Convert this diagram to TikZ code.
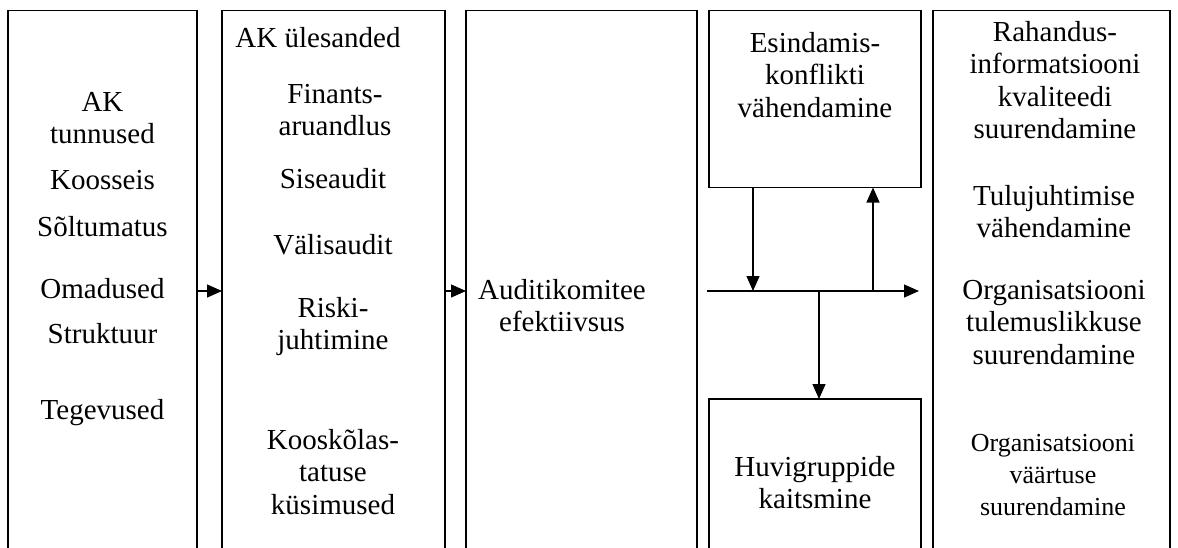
\documentclass[tikz,border=0pt]{standalone}
\usepackage{fontspec}
\setmainfont{Liberation Serif}
\usetikzlibrary{arrows.meta}
\newcommand{\ml}[1]{\begin{tabular}[t]{@{}c@{}}#1\end{tabular}}
\tikzset{
  frame/.style={rectangle, draw=none, inner sep=0pt, outer sep=0pt, anchor=north west},
  edge/.style={line width=1.3pt, line cap=rect},
  arr/.style={line width=1.3pt, -{Triangle[length=15pt,width=13pt]}},
  txt/.style={anchor=base, inner sep=0pt, font=\fontsize{29}{32.5}\selectfont},
  smalltxt/.style={anchor=base, inner sep=0pt, font=\fontsize{26}{32}\selectfont}
}
\begin{document}
\begin{tikzpicture}[x=1pt,y=-1pt]
\useasboundingbox (0,0) rectangle (1178,547);
% column frames (open at the bottom)
\node[frame, minimum width=189pt, minimum height=560pt] (b1) at (8,10.5) {};
\node[frame, minimum width=223pt, minimum height=560pt] (b2) at (222,10.5) {};
\node[frame, minimum width=231pt, minimum height=560pt] (b3) at (466,10.5) {};
\node[frame, minimum width=237pt, minimum height=560pt] (b5) at (933,10.5) {};
\node[frame, minimum width=212pt, minimum height=177pt] (e) at (709,10.5) {};
\node[frame, minimum width=212pt, minimum height=160pt] (h) at (709,399) {};
\foreach \b in {b1,b2,b3,b5,h}{
  \draw[edge] (\b.south west) -- (\b.north west) -- (\b.north east) -- (\b.south east);
}
\draw[edge] (e.north west) rectangle (e.south east);

% texts
\node[txt] (t1) at (102.5,111) {\ml{AK\\tunnused}};
\node[txt] (t2) at (102.5,189) {Koosseis};
\node[txt] (t3) at (102.5,236) {Sõltumatus};
\node[txt] (t4) at (102.5,298) {Omadused};
\node[txt] (t5) at (102.5,343) {Struktuur};
\node[txt] (t6) at (102.5,419) {Tegevused};

\node[txt] (u1) at (318,47) {AK ülesanded};
\node[txt] (u2) at (335,103) {\ml{Finants-\\aruandlus}};
\node[txt] (u3) at (333,188) {Siseaudit};
\node[txt] (u4) at (333,254) {Välisaudit};
\node[txt] (u5) at (333,317) {\ml{Riski-\\juhtimine}};
\node[txt] (u6) at (333,449) {\ml{Kooskõlas-\\tatuse\\küsimused}};

\node[txt] (v1) at (562,299) {\ml{Auditikomitee\\efektiivsus}};

\node[txt] (w1) at (815,52) {\ml{Esindamis-\\konflikti\\vähendamine}};
\node[txt] (w2) at (815,476) {\ml{Huvigruppide\\kaitsmine}};

\node[txt] (r1) at (1055,41) {\ml{Rahandus-\\informatsiooni\\kvaliteedi\\suurendamine}};
\node[txt] (r2) at (1054,205) {\ml{Tulujuhtimise\\vähendamine}};
\node[txt] (r3) at (1054,299) {\ml{Organisatsiooni\\tulemuslikkuse\\suurendamine}};
\node[smalltxt] (r4) at (1053,451) {\ml{Organisatsiooni\\väärtuse\\suurendamine}};

% connectors
\coordinate (hs) at (707,291);
\coordinate (he) at (919,291);
\coordinate (j1) at (753,291);
\coordinate (j2) at (873,291);
\coordinate (j3) at (819,291);
\draw[arr] (b1.east |- hs) -- (b2.west |- hs);
\draw[arr] (b2.east |- hs) -- (b3.west |- hs);
\draw[arr] (hs) -- (he);
\draw[arr] (e.south -| j1) -- (j1);
\draw[arr] (j2) -- (e.south -| j2);
\draw[arr] (j3) -- (h.north -| j3);
\end{tikzpicture}
\end{document}
